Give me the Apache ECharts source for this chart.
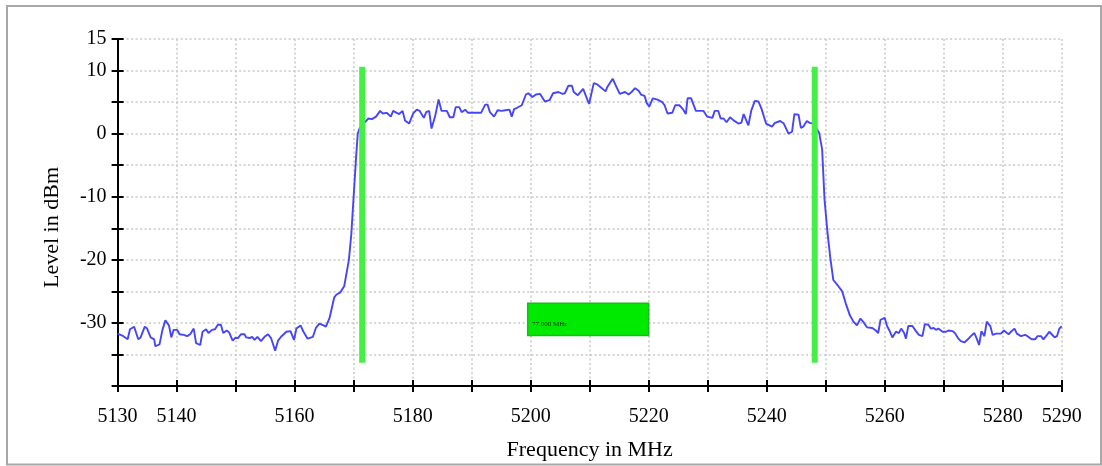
<!DOCTYPE html>
<html>
<head>
<meta charset="utf-8">
<script src="https://cdn.jsdelivr.net/npm/echarts@6/dist/echarts.min.js"></script>
<style>
html,body{margin:0;padding:0;background:#fff;}
#chart{width:1102px;height:466px;}
</style>
</head>
<body>
<div id="chart"></div>
<script>
// Frequency (MHz) and level (dBm) of the measured trace
const freqs = [
5130.0,5130.3,5130.8,5131.7,5132.1,5132.8,5133.5,5133.9,5134.6,5135.0,
5135.6,5136.2,5136.4,5137.1,5137.6,5138.1,5138.7,5139.1,5139.5,5140.1,
5140.5,5141.2,5141.8,5142.3,5142.9,5143.3,5144.0,5144.4,5145.0,5145.4,
5146.0,5146.5,5147.0,5147.5,5147.9,5148.5,5148.9,5149.5,5149.9,5150.4,
5150.9,5151.5,5151.8,5152.4,5152.8,5153.2,5153.7,5154.3,5154.9,5155.5,
5156.0,5156.7,5157.2,5157.7,5158.6,5159.3,5159.9,5160.3,5161.0,5161.5,
5162.2,5163.1,5163.6,5164.2,5164.9,5165.3,5165.9,5166.1,5166.7,5167.1,
5167.7,5168.4,5168.7,5169.2,5169.6,5170.0,5170.4,5170.7,5171.0,5171.5,
5171.9,5172.5,5173.1,5173.8,5174.5,5174.9,5175.6,5176.3,5176.7,5177.3,
5177.7,5178.3,5178.7,5179.4,5180.1,5180.7,5181.2,5181.9,5182.3,5182.8,
5183.2,5183.8,5184.4,5184.9,5185.8,5186.3,5186.9,5187.3,5187.9,5188.3,
5188.9,5189.4,5190.0,5190.8,5191.6,5192.3,5192.7,5193.1,5193.8,5194.4,
5195.1,5195.7,5196.4,5196.8,5197.2,5197.7,5198.5,5199.2,5199.6,5200.3,
5200.9,5201.6,5202.4,5203.2,5203.8,5204.7,5205.4,5205.8,5206.4,5207.0,
5207.3,5208.0,5208.9,5209.9,5210.7,5211.3,5212.7,5213.0,5213.9,5214.5,
5215.1,5216.0,5216.6,5217.1,5217.7,5218.3,5218.7,5219.3,5219.7,5220.1,
5220.7,5221.5,5222.3,5222.7,5223.2,5224.0,5224.5,5225.2,5225.8,5226.3,
5226.6,5227.2,5228.0,5228.6,5229.3,5229.9,5230.8,5231.2,5231.8,5232.2,
5232.7,5233.2,5233.8,5234.4,5235.2,5235.7,5236.1,5236.9,5237.4,5238.0,
5238.6,5239.1,5239.9,5240.9,5241.4,5242.3,5242.9,5243.7,5244.3,5244.7,
5245.4,5245.8,5246.2,5246.8,5247.3,5247.8,5248.2,5248.9,5249.4,5249.8,
5250.3,5250.8,5251.3,5252.0,5252.8,5253.4,5254.1,5254.7,5255.3,5255.9,
5256.5,5257.0,5257.9,5258.5,5258.9,5259.3,5260.0,5260.4,5260.8,5261.3,
5261.9,5262.4,5262.8,5263.3,5263.6,5264.0,5264.7,5265.3,5265.8,5266.4,
5266.8,5267.4,5267.8,5268.3,5268.7,5269.1,5269.4,5269.8,5270.4,5270.8,
5271.5,5271.9,5272.5,5272.9,5273.5,5274.1,5274.6,5275.2,5275.6,5276.0,
5276.4,5276.9,5277.3,5277.9,5278.3,5278.9,5279.7,5280.2,5280.4,5281.0,
5281.4,5282.0,5282.4,5283.1,5283.8,5284.2,5284.9,5285.5,5285.9,5286.5,
5286.9,5287.5,5287.9,5288.3,5288.8,5289.2,5289.6,5290.0
];
const levels = [
-31.7,-31.8,-32.0,-32.6,-31.0,-30.6,-32.6,-32.3,-30.6,-30.9,
-32.3,-32.6,-33.7,-33.4,-31.1,-29.6,-30.4,-32.3,-31.1,-31.1,
-31.8,-31.9,-32.1,-31.8,-30.9,-33.2,-33.5,-31.4,-31.0,-31.6,
-31.1,-31.0,-30.3,-30.3,-31.6,-31.2,-31.5,-32.8,-32.4,-32.4,
-31.8,-31.8,-32.3,-32.4,-32.2,-32.7,-32.2,-32.9,-32.2,-31.8,
-32.4,-34.4,-32.8,-32.2,-31.4,-31.3,-32.7,-30.9,-30.4,-31.4,
-32.5,-32.2,-30.8,-30.1,-30.4,-30.6,-29.3,-29.3,-26.0,-25.5,
-25.2,-24.2,-23.9,-20.0,-16.0,-10.0,-4.0,0.0,0.8,1.5,
1.8,2.4,2.3,2.7,3.6,3.2,3.3,2.7,3.6,3.3,
3.1,3.6,2.1,1.6,3.2,3.8,3.6,2.5,3.4,3.6,
0.8,2.7,5.4,3.6,3.6,2.6,2.6,4.2,4.2,3.4,
3.8,3.3,3.3,3.3,3.3,4.6,4.6,3.4,2.7,3.7,
3.6,3.7,3.8,2.7,3.9,4.1,4.5,6.2,6.4,5.8,
6.2,6.3,5.1,5.3,6.4,6.6,6.3,6.4,7.6,7.6,
6.6,6.1,7.1,4.7,8.0,7.8,6.7,7.4,8.7,7.5,
6.3,6.6,6.2,6.6,7.2,6.8,6.2,6.0,4.8,4.3,
5.6,5.4,5.0,4.5,3.2,3.3,4.5,4.5,3.9,3.1,
5.6,5.6,3.6,3.6,3.6,2.7,2.5,3.6,3.6,2.4,
2.4,1.8,2.6,2.1,1.6,1.7,3.1,1.3,3.7,5.2,
5.1,4.0,1.6,1.1,1.7,2.0,1.6,0.0,0.3,3.1,
3.0,0.9,1.1,2.0,1.7,1.6,1.2,0.1,-2.5,-10.4,
-15.6,-19.8,-23.2,-24.0,-25.0,-26.9,-28.8,-29.8,-30.4,-29.3,
-30.0,-30.7,-30.8,-31.2,-31.6,-29.5,-29.2,-30.5,-31.2,-32.3,
-31.4,-31.6,-30.9,-31.6,-32.5,-30.5,-30.5,-31.3,-31.9,-32.1,
-30.2,-30.3,-30.9,-30.8,-31.1,-30.9,-31.1,-31.4,-31.4,-31.2,
-31.3,-31.6,-32.5,-32.9,-33.1,-32.6,-32.1,-31.6,-32.5,-33.5,
-31.3,-32.1,-29.8,-30.5,-31.9,-31.7,-31.7,-31.2,-31.0,-31.8,
-31.4,-30.9,-31.7,-32.1,-31.9,-32.1,-32.6,-32.6,-32.1,-32.1,
-32.6,-31.9,-31.4,-31.8,-32.3,-32.1,-30.9,-30.5
];

// Band-edge markers (MHz) and their vertical span (dBm)
const markerFreqs = [5171.45, 5248.15];
const markerSpan = [10.6, -36.3];
// Bandwidth annotation box
const boxFreqs = [5199.5, 5220];
const boxLevels = [-26.9, -32.0];
const boxText = '77.000 MHz';

// Axis tick labels
const xLabels = [5130, 5140, 5160, 5180, 5200, 5220, 5240, 5260, 5280, 5290];
const yLabels = [15, 10, 0, -10, -20, -30];

const FONT = 'Liberation Serif';
const chart = echarts.init(document.getElementById('chart'), null, {renderer: 'canvas'});

const traceData = freqs.map((f, i) => [f, levels[i]]);
const markerSeries = markerFreqs.map(f => ({
  type: 'line',
  xAxisIndex: 0, yAxisIndex: 0,
  data: markerSpan.map(v => [f, v]),
  symbol: 'none',
  lineStyle: {color: '#44f044', width: 6, cap: 'butt'},
  silent: true,
  z: 4
}));

const gridLine = {show: true, lineStyle: {color: '#c8c8c8', width: 1.5, type: [2, 2.5]}};

const option = {
  animation: false,
  backgroundColor: '#ffffff',
  grid: {left: 117.6, right: 40.3, top: 39, bottom: 78.7, containLabel: false},
  graphic: [{
    type: 'rect',
    shape: {x: 7, y: 6, width: 1094, height: 458.5},
    style: {fill: 'none', stroke: '#a8a8a8', lineWidth: 2},
    silent: true, z: -10
  }],
  xAxis: [{
    type: 'value', min: 5130, max: 5290, interval: 10,
    position: 'bottom',
    name: 'Frequency in MHz', nameLocation: 'middle', nameGap: 53,
    nameTextStyle: {fontFamily: FONT, fontSize: 22, color: '#000'},
    axisLine: {show: true, onZero: false, lineStyle: {color: '#000', width: 2}},
    axisTick: {show: true, inside: false, length: 6, lineStyle: {color: '#000', width: 2}},
    axisLabel: {
      fontFamily: FONT, fontSize: 20, color: '#000', margin: 21,
      showMinLabel: true, showMaxLabel: true,
      formatter: v => xLabels.includes(Math.round(v)) ? String(Math.round(v)) : ''
    },
    splitLine: gridLine
  }, {
    type: 'value', min: 5130, max: 5290, interval: 10,
    position: 'bottom', offset: 0,
    axisLine: {show: false, onZero: false},
    axisTick: {show: true, inside: true, length: 6, lineStyle: {color: '#000', width: 2}},
    axisLabel: {show: false},
    splitLine: {show: false}
  }],
  yAxis: [{
    type: 'value', min: -40, max: 15, interval: 5,
    position: 'left',
    name: 'Level in dBm', nameLocation: 'middle', nameGap: 54, nameRotate: 90,
    nameTextStyle: {fontFamily: FONT, fontSize: 22, color: '#000', padding: [0, 30, 0, 0]},
    axisLine: {show: true, onZero: false, lineStyle: {color: '#000', width: 2}},
    axisTick: {show: true, inside: false, length: 6, lineStyle: {color: '#000', width: 2}},
    axisLabel: {
      fontFamily: FONT, fontSize: 20, color: '#000', margin: 11,
      showMinLabel: true, showMaxLabel: true,
      formatter: v => yLabels.includes(Math.round(v)) ? String(Math.round(v)) : ''
    },
    splitLine: gridLine
  }, {
    type: 'value', min: -40, max: 15, interval: 5,
    position: 'left', offset: 0,
    axisLine: {show: false, onZero: false},
    axisTick: {show: true, inside: true, length: 6, lineStyle: {color: '#000', width: 2}},
    axisLabel: {show: false},
    splitLine: {show: false}
  }],
  series: [{
    type: 'line',
    xAxisIndex: 0, yAxisIndex: 0,
    data: traceData,
    symbol: 'none',
    lineStyle: {color: '#4646f8', width: 1.9},
    z: 3,
    markArea: {
      silent: true,
      itemStyle: {color: '#00ea00', borderColor: '#1fb81f', borderWidth: 1.5},
      label: {
        show: true, position: [5, 22], align: 'left', verticalAlign: 'middle',
        fontFamily: FONT, fontSize: 7, color: '#113311'
      },
      data: [[
        {name: boxText, coord: [boxFreqs[0], boxLevels[0]]},
        {coord: [boxFreqs[1], boxLevels[1]]}
      ]]
    }
  }].concat(markerSeries)
};
chart.setOption(option);
</script>
</body>
</html>
